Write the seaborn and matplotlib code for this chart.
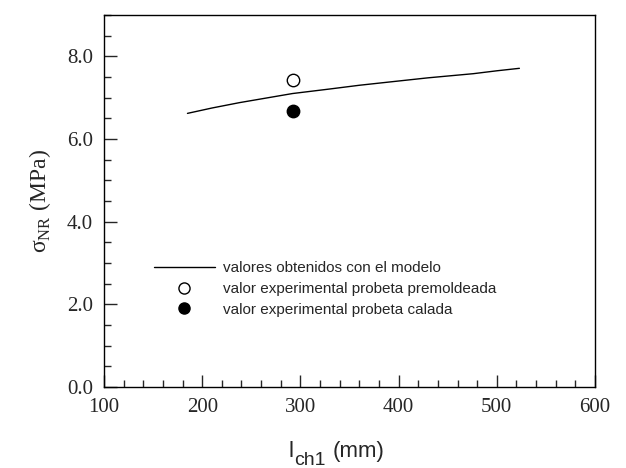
#! /usr/bin/env python3
'''
sigma_NR vs l_ch1: model curve and experimental values
'''
import matplotlib
matplotlib.use('Agg')
import matplotlib.pyplot as plt
from matplotlib.ticker import MultipleLocator, FormatStrFormatter
from matplotlib.lines import Line2D
import seaborn as sns

# data
model_lch = [185, 210, 238, 265, 292, 330, 360, 391, 430, 476, 500, 523]
model_sigma = [6.62, 6.75, 6.88, 6.99, 7.10, 7.21, 7.30, 7.38, 7.48, 7.58, 7.65, 7.71]
prem_lch = [292]
prem_sigma = [7.42]
calada_lch = [292]
calada_sigma = [6.68]
legend_labels = ["valores obtenidos con el modelo",
                 "valor experimental probeta premoldeada",
                 "valor experimental probeta calada"]

sns.set_style("ticks")
plt.rcParams['font.family'] = ['Liberation Serif', 'DejaVu Serif']
plt.rcParams['mathtext.fontset'] = 'custom'
plt.rcParams['mathtext.rm'] = 'Liberation Serif'
SANS = ['Liberation Sans', 'DejaVu Sans']

W, H = 626, 468
fig = plt.figure(figsize=(W/100, H/100), dpi=100)
ax = fig.add_axes([104/W, 1-387/H, (595-104)/W, (387-15)/H])

sns.lineplot(x=model_lch, y=model_sigma, ax=ax, color='black', linewidth=1.0, sort=True)
sns.scatterplot(x=prem_lch, y=prem_sigma, ax=ax, marker='o', s=80, facecolor='white',
                edgecolor='black', linewidth=1.0, zorder=3)
sns.scatterplot(x=calada_lch, y=calada_sigma, ax=ax, marker='o', s=80, color='black',
                edgecolor='black', linewidth=1.0, zorder=3)

ax.set_xlim(100, 600)
ax.set_ylim(0, 9.0)
ax.xaxis.set_major_locator(MultipleLocator(100))
ax.xaxis.set_minor_locator(MultipleLocator(20))
ax.yaxis.set_major_locator(MultipleLocator(2))
ax.yaxis.set_minor_locator(MultipleLocator(0.5))
ax.yaxis.set_major_formatter(FormatStrFormatter('%.1f'))
ax.tick_params(which='both', direction='in', top=False, right=False, labelsize=15, pad=8)
ax.tick_params(which='major', length=9, width=1)
ax.tick_params(which='minor', length=5, width=1)
for sp in ax.spines.values():
    sp.set_linewidth(1.0)
    sp.set_color('black')

ax.set_ylabel('σ$_{\\mathrm{NR}}$ (MPa)', fontsize=17, labelpad=10)

# x label: l with a large sans subscript "ch1"
base_y = 1 - 457/H
fig.text(289/W, base_y, 'l', fontsize=16, family=SANS, va='baseline', ha='left')
fig.text(294/W, base_y - 8/H, 'ch1', fontsize=14, family=SANS, va='baseline', ha='left')
fig.text(333/W, base_y, '(mm)', fontsize=16, family=SANS, va='baseline', ha='left')

handles = [Line2D([], [], color='black', linewidth=1.0),
           Line2D([], [], color='black', marker='o', markersize=8, markerfacecolor='white', linestyle='none'),
           Line2D([], [], color='black', marker='o', markersize=8, markerfacecolor='black', linestyle='none')]
ax.legend(handles, legend_labels, loc='upper left', bbox_to_anchor=(0.089, 0.355), frameon=False,
          prop={'family': SANS, 'size': 11},
          handlelength=4.0, handletextpad=0.5, labelspacing=0.45, borderaxespad=0)

fig.savefig('out.png', dpi=100)
